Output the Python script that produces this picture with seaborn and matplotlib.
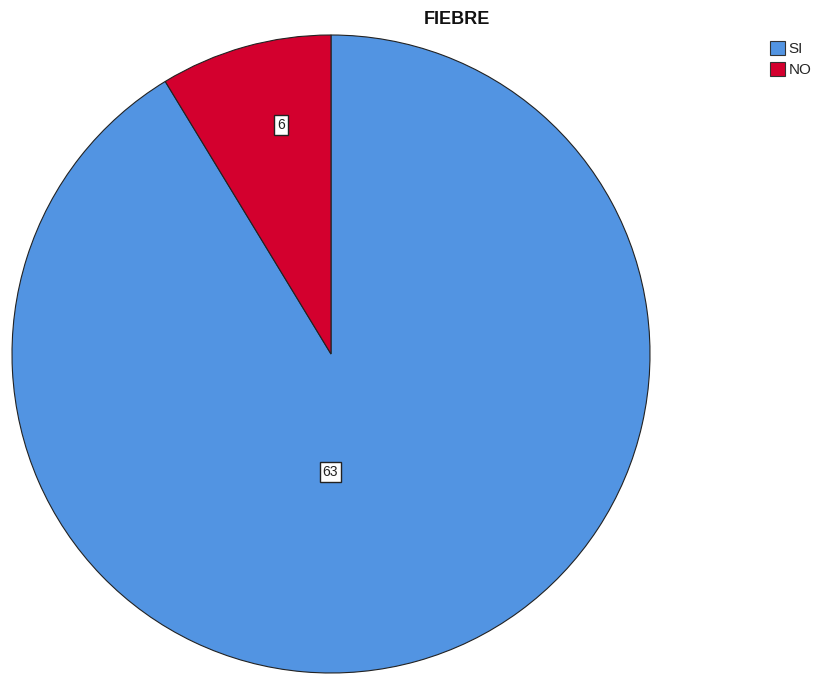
import matplotlib
matplotlib.use("Agg")
import matplotlib.pyplot as plt
import seaborn as sns
from matplotlib.patches import Patch

# data
categories = ["SI", "NO"]
counts = [63, 6]
colors = ["#5294E2", "#D3002E"]
title = "FIEBRE"

sns.set_theme(style="white")
plt.rcParams['font.family'] = ['Liberation Sans', 'DejaVu Sans']

fig = plt.figure(figsize=(8.2, 6.74), dpi=100)
fig.patch.set_facecolor("white")

# pie centered at (331, 354) px with radius ~319 px
cx, cy, r = 331, 354, 319
ax = fig.add_axes([(cx - r) / 820, (674 - cy - r) / 674, 2 * r / 820, 2 * r / 674])
wedges, _ = ax.pie(counts, colors=colors, startangle=90, counterclock=False,
                   wedgeprops={"edgecolor": "#222222", "linewidth": 0.8})
ax.set_xlim(-1.0, 1.0)
ax.set_ylim(-1.0, 1.0)
ax.set_aspect("equal")
ax.axis("off")

# value labels in boxes
label_pos = [(-0.003, -0.37), (-0.157, 0.718)]
for (x, y), v in zip(label_pos, counts):
    ax.text(x, y, str(v), ha="center", va="center", fontsize=10, color="#222222",
            bbox=dict(boxstyle="square,pad=0.2", facecolor="white", edgecolor="#222222", linewidth=1))

fig.text(457 / 820, 1 - 19 / 674, title, ha="center", va="center",
         fontsize=13, fontweight="bold", color="#111111")

handles = [Patch(facecolor=c, edgecolor="#333333", linewidth=0.8) for c in colors]
fig.legend(handles, categories, loc="upper left", bbox_to_anchor=(762 / 820, 1 - 33 / 674),
           frameon=False, fontsize=11, handlelength=1.0, handleheight=1.1,
           handletextpad=0.25, labelspacing=0.35, borderpad=0)

fig.savefig("out.png", dpi=100, facecolor="white")
